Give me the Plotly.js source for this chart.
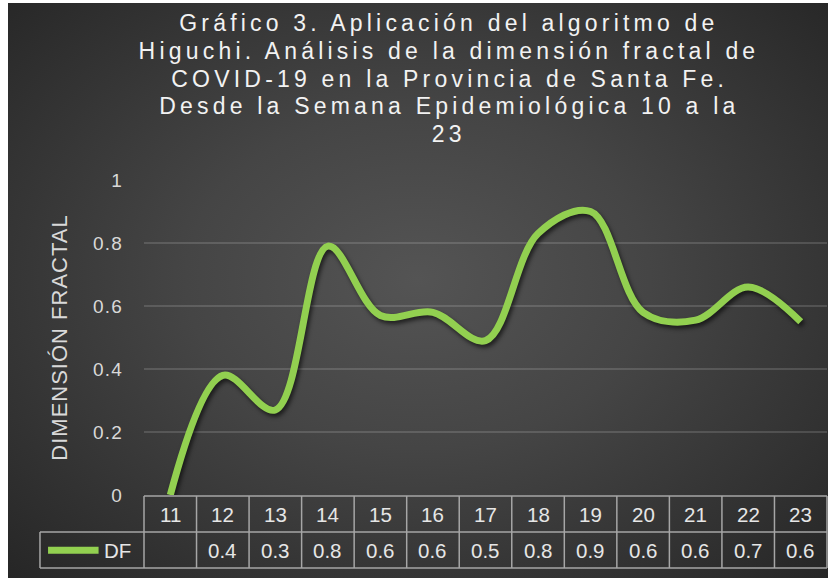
<!DOCTYPE html>
<html>
<head>
<meta charset="utf-8">
<script src="https://cdn.plot.ly/plotly-3.0.1.min.js"></script>
<style>
  html, body { margin: 0; padding: 0; background: #ffffff; }
  #wrap { position: relative; width: 833px; height: 580px; }
  #bg { position: absolute; left: 8px; top: 3px; width: 820px; height: 575px;
        background: radial-gradient(ellipse farthest-corner at 50% 48%, #545454 0%, #454545 40%, #262626 100%); }
  #chart { position: absolute; left: 0; top: 0; width: 833px; height: 580px; }
  g.annotation[data-index="0"] text, g.annotation[data-index="1"] text,
  g.annotation[data-index="2"] text, g.annotation[data-index="3"] text,
  g.annotation[data-index="4"] text { letter-spacing: 4.2px; }
  .ytitle { letter-spacing: 1px; }
  .ytick text { letter-spacing: 1.2px; }
  .scatterlayer .js-line { filter: drop-shadow(2px 3px 2px rgba(0,0,0,0.6)); }
</style>
</head>
<body>
<div id="wrap"><div id="bg"></div><div id="chart"></div></div>
<script>
// ---- data ----
const weeks = [11, 12, 13, 14, 15, 16, 17, 18, 19, 20, 21, 22, 23];
const dfValues = [0, 0.38, 0.27, 0.79, 0.57, 0.58, 0.49, 0.83, 0.90, 0.58, 0.555, 0.66, 0.55];
const seriesName = 'DF';
const titleLines = [
  'Gráfico 3. Aplicación del algoritmo de',
  'Higuchi. Análisis de la dimensión fractal de',
  'COVID-19 en la Provincia de Santa Fe.',
  'Desde la Semana Epidemiológica 10 a la',
  '23'
];
const yTitle = 'DIMENSIÓN FRACTAL';

const GREEN = '#92D050';
const GRIDC = '#a6a6a6';
const FONT = 'Arial, "Liberation Sans", sans-serif';

// plot area in px: x 144..827, y 180..495
const pxToPaperY = Y => (495 - Y) / 315;
const pxToPaperX = X => (X - 144) / 683;

// table geometry in paper units
const yRowTop = -0.003, yRowMid = -0.1175, yRowBot = -0.2317;
const yHeadText = -0.061, yValText = -0.175;
const xLegLeft = -0.1523;

const annotations = [];
// title lines (first five annotations)
titleLines.forEach((t, i) => {
  annotations.push({xref:'paper', yref:'paper', x:pxToPaperX(449), y:pxToPaperY(23 + i * 27.75),
    text:t, showarrow:false, xanchor:'center', yanchor:'middle',
    font:{family:FONT, size:23, color:'#f2f2f2'}});
});

const shapes = [];
const n = weeks.length;
shapes.push({type:'line', xref:'paper', yref:'paper', x0:0, x1:1, y0:yRowTop, y1:yRowTop, line:{color:GRIDC, width:1.5}});
shapes.push({type:'line', xref:'paper', yref:'paper', x0:xLegLeft, x1:1, y0:yRowMid, y1:yRowMid, line:{color:GRIDC, width:1.5}});
shapes.push({type:'line', xref:'paper', yref:'paper', x0:xLegLeft, x1:1, y0:yRowBot, y1:yRowBot, line:{color:GRIDC, width:1.5}});
for (let i = 0; i <= n; i++) {
  shapes.push({type:'line', xref:'paper', yref:'paper', x0:i/n, x1:i/n, y0:yRowTop, y1:yRowBot, line:{color:GRIDC, width:1.5}});
}
shapes.push({type:'line', xref:'paper', yref:'paper', x0:xLegLeft, x1:xLegLeft, y0:yRowMid, y1:yRowBot, line:{color:GRIDC, width:1.5}});
shapes.push({type:'line', xref:'paper', yref:'paper', x0:-0.1405, x1:-0.0665, y0:yValText, y1:yValText, line:{color:GREEN, width:7}});

const tfont = {family:FONT, size:20.5, color:'#e6e6e6'};
weeks.forEach((w, i) => {
  annotations.push({xref:'x', yref:'paper', x:w, y:yHeadText, text:String(w), showarrow:false,
    xanchor:'center', yanchor:'middle', font:tfont});
  const v = dfValues[i];
  annotations.push({xref:'x', yref:'paper', x:w, y:yValText, text: v === 0 ? '' : v.toFixed(1), showarrow:false,
    xanchor:'center', yanchor:'middle', font:tfont});
});
annotations.push({xref:'paper', yref:'paper', x:-0.0395, y:yValText, text:seriesName, showarrow:false,
  xanchor:'center', yanchor:'middle', font:tfont});

const trace = {
  x: weeks, y: dfValues, name: seriesName, type: 'scatter', mode: 'lines',
  line: {color: GREEN, width: 7, shape: 'spline', smoothing: 1},
  hoverinfo: 'skip'
};

const layout = {
  width: 833, height: 580,
  margin: {l: 144, r: 6, t: 180, b: 85, pad: 0},
  paper_bgcolor: 'rgba(0,0,0,0)', plot_bgcolor: 'rgba(0,0,0,0)',
  showlegend: false,
  font: {family: FONT, color: '#d9d9d9'},
  xaxis: {range: [10.5, 23.5], showgrid: false, zeroline: false, showticklabels: false, showline: false, fixedrange: true},
  yaxis: {
    range: [0, 1], dtick: 0.2, tick0: 0, showgrid: true, gridcolor: 'rgba(255,255,255,0.14)', gridwidth: 1.5,
    zeroline: false, showline: false, ticks: '', ticklabelstandoff: 20,
    tickfont: {family: FONT, size: 19, color: '#d9d9d9'},
    title: {text: yTitle, font: {family: FONT, size: 22, color: '#d9d9d9'}, standoff: 19},
    fixedrange: true
  },
  shapes: shapes,
  annotations: annotations
};

Plotly.newPlot('chart', [trace], layout, {displayModeBar: false, staticPlot: true});
</script>
</body>
</html>
